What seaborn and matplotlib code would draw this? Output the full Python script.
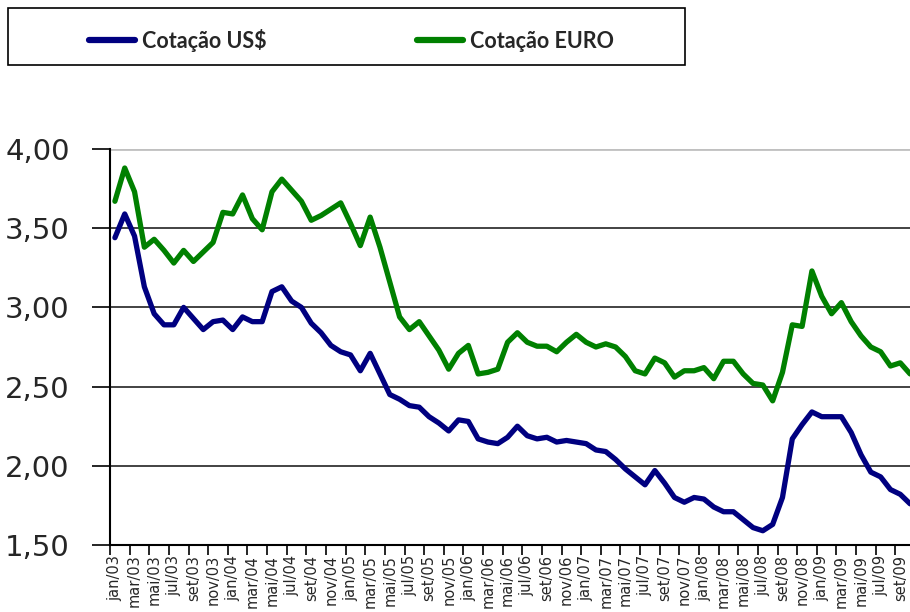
import numpy as np
import pandas as pd
import matplotlib
matplotlib.use("Agg")
import matplotlib.pyplot as plt
from matplotlib.lines import Line2D
from matplotlib.patches import Rectangle
import seaborn as sns

# monthly quotes, jan/03 .. out/09
meses = ['jan', 'fev', 'mar', 'abr', 'mai', 'jun', 'jul', 'ago', 'set', 'out', 'nov', 'dez']
periodos = [f"{m}/{a:02d}" for a in range(3, 10) for m in meses][:82]

dolar = [3.44, 3.59, 3.45, 3.13, 2.96, 2.89, 2.89, 3.00, 2.93, 2.86, 2.91, 2.92,
         2.86, 2.94, 2.91, 2.91, 3.10, 3.13, 3.04, 3.00, 2.90, 2.84, 2.76, 2.72,
         2.70, 2.60, 2.71, 2.58, 2.45, 2.42, 2.38, 2.37, 2.31, 2.27, 2.22, 2.29,
         2.28, 2.17, 2.15, 2.14, 2.18, 2.25, 2.19, 2.17, 2.18, 2.15, 2.16, 2.15,
         2.14, 2.10, 2.09, 2.04, 1.98, 1.93, 1.88, 1.97, 1.89, 1.80, 1.77, 1.80,
         1.79, 1.74, 1.71, 1.71, 1.66, 1.61, 1.59, 1.63, 1.80, 2.17, 2.26, 2.34,
         2.31, 2.31, 2.31, 2.21, 2.07, 1.96, 1.93, 1.85, 1.82, 1.76]

euro = [3.67, 3.88, 3.73, 3.38, 3.43, 3.36, 3.28, 3.36, 3.29, 3.35, 3.41, 3.60,
        3.59, 3.71, 3.56, 3.49, 3.73, 3.81, 3.74, 3.67, 3.55, 3.58, 3.62, 3.66,
        3.53, 3.39, 3.57, 3.38, 3.16, 2.94, 2.86, 2.91, 2.82, 2.73, 2.61, 2.71,
        2.76, 2.58, 2.59, 2.61, 2.78, 2.84, 2.78, 2.755, 2.755, 2.72, 2.78, 2.83,
        2.78, 2.75, 2.77, 2.75, 2.69, 2.60, 2.58, 2.68, 2.65, 2.56, 2.60, 2.60,
        2.62, 2.55, 2.66, 2.66, 2.58, 2.52, 2.51, 2.41, 2.59, 2.89, 2.88, 3.23,
        3.07, 2.96, 3.03, 2.91, 2.82, 2.75, 2.72, 2.63, 2.65, 2.58]

series = ['Cotação US$', 'Cotação EURO']
cores = {'Cotação US$': '#000080', 'Cotação EURO': '#008000'}

y_ticks = [1.5, 2.0, 2.5, 3.0, 3.5, 4.0]
y_labels = ['1,50', '2,00', '2,50', '3,00', '3,50', '4,00']

df = pd.DataFrame({'pos': range(len(periodos)), series[0]: dolar, series[1]: euro})
longo = df.melt(id_vars='pos', var_name='serie', value_name='cotacao')

sns.set_style('white')
plt.rcParams['font.family'] = ['DejaVu Sans']

fig = plt.figure(figsize=(9.1, 6.12), dpi=100)
ax = fig.add_axes([110 / 910, 1 - 545 / 612, 805 / 910, 396 / 612])

sns.lineplot(data=longo, x='pos', y='cotacao', hue='serie', hue_order=series,
             palette=cores, linewidth=3.8, ax=ax, legend=False)

ax.set_xlim(-0.5, len(periodos) - 0.5)
ax.set_ylim(1.5, 4.0)
ax.set_xlabel('')
ax.set_ylabel('')

# y axis
ax.set_yticks(y_ticks)
ax.set_yticklabels(y_labels)
ax.tick_params(axis='y', labelsize=21, length=13, width=1.2, pad=16, color='black', left=True)
ax.grid(axis='y', color='#222222', linewidth=1.2)
ax.yaxis.get_gridlines()[-1].set_color('#c0c0c0')
ax.yaxis.get_gridlines()[-1].set_linewidth(2)

# x axis: labels every 2 months, tick marks on category boundaries
ax.set_xticks(range(0, len(periodos), 2))
ax.set_xticklabels(periodos[::2], rotation=90, va='top', ha='center')
ax.set_xticks(np.arange(-0.5, len(periodos), 2), minor=True)
ax.tick_params(axis='x', which='major', length=0, labelsize=10.5, pad=7)
ax.tick_params(axis='x', which='minor', length=7, width=1.2, color='black', bottom=True)

for s in ['top', 'right']:
    ax.spines[s].set_visible(False)
for s in ['left', 'bottom']:
    ax.spines[s].set_color('black')
    ax.spines[s].set_linewidth(1.5)

# legend box on top
fig.patches.append(Rectangle((8 / 910, 1 - 65 / 612), 677 / 910, 57 / 612,
                             transform=fig.transFigure, fill=False,
                             edgecolor='black', linewidth=1.2))
handles = [Line2D([0], [0], color=cores[s], linewidth=4.5, solid_capstyle='round') for s in series]
fig.legend(handles, series, loc='center left', bbox_to_anchor=(70 / 910, 1 - 40 / 612),
           ncol=2, frameon=False, handlelength=2.1, handletextpad=0.35, columnspacing=7.0,
           prop={'family': ['Lato', 'DejaVu Sans'], 'weight': 'bold', 'size': 15.5})

plt.savefig('out.png', dpi=100)
